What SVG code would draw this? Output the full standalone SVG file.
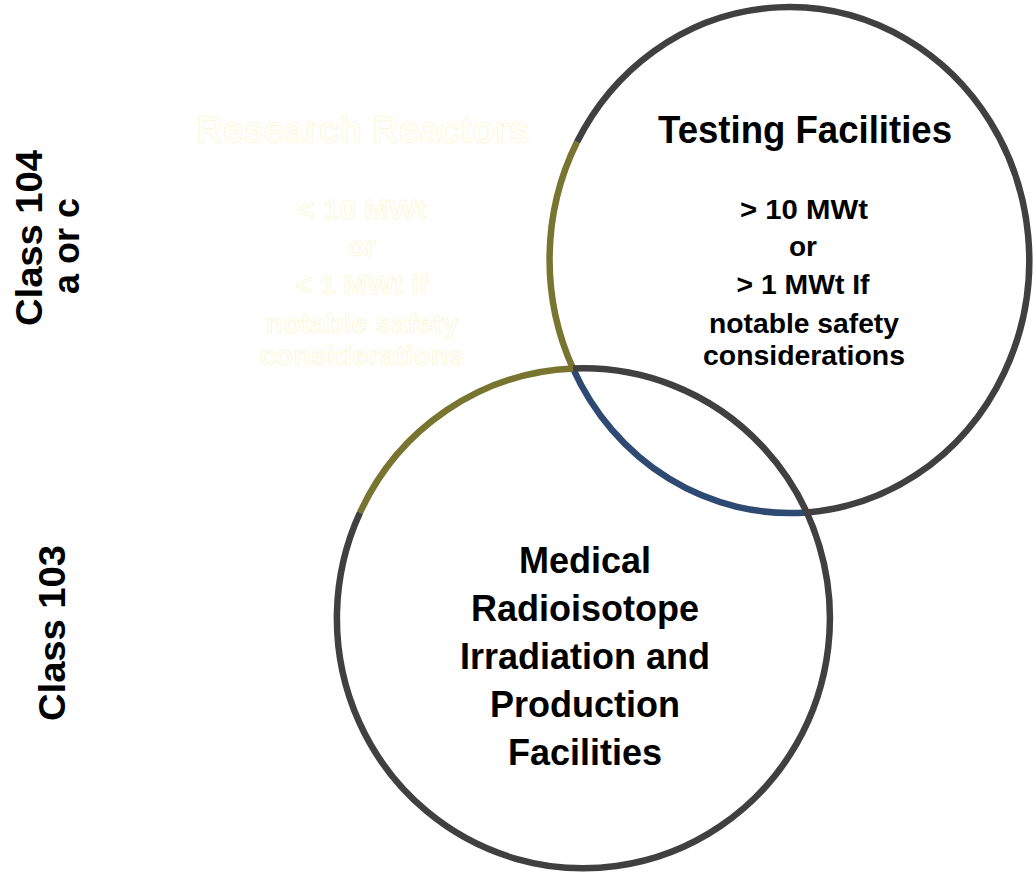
<svg xmlns="http://www.w3.org/2000/svg" width="1034" height="872" viewBox="0 0 1034 872">
  <style>
    .arc { fill: none; stroke-width: 6.5; stroke-linecap: butt; }
    .dark { stroke: #404040; }
    .olive { stroke: #787530; }
    .blue { stroke: #2e4a72; }
    .t { font-family: "Liberation Sans", Arial, sans-serif; font-weight: bold; text-anchor: middle; fill: #000; }
    .faint { fill: #fffff5; stroke: #f5f5d6; stroke-width: 0.6; }
    .title { font-size: 38px; }
    .sub { font-size: 28px; }
    .big { font-size: 36px; }
    .side { font-size: 36px; }
  </style>
  <rect width="1034" height="872" fill="#ffffff"/>

  <!-- outlines of the three sets; the research reactor set is white and only shows as olive edges -->
  <g id="connectors">
    <path class="arc olive" d="M 577 142 A 240 253 0 0 0 573 368.5"/>
    <path class="arc blue" d="M 573 368.5 A 240 253 0 0 0 807 512.4"/>
    <path class="arc dark" d="M 807 512.4 A 240 253 0 1 0 577 142"/>
    <path class="arc olive" d="M 573 368.5 A 246.5 250 0 0 0 360 512.6"/>
    <path class="arc dark" d="M 360 512.6 A 246.5 250 0 1 0 573 368.5"/>
  </g>

  <g id="research-reactors">
    <text class="t title faint" x="363" y="143" textLength="333" lengthAdjust="spacingAndGlyphs">Research Reactors</text>
    <text class="t sub faint" x="362" y="219" textLength="129" lengthAdjust="spacingAndGlyphs">&lt; 10 MWt</text>
    <text class="t sub faint" x="362" y="256">or</text>
    <text class="t sub faint" x="362" y="294" textLength="133" lengthAdjust="spacingAndGlyphs">&lt; 1 MWt if</text>
    <text class="t sub faint" x="362" y="333" textLength="193" lengthAdjust="spacingAndGlyphs">notable safety</text>
    <text class="t sub faint" x="362" y="365" textLength="205" lengthAdjust="spacingAndGlyphs">considerations</text>
  </g>

  <g id="testing-facilities">
    <text class="t title" x="805" y="143" textLength="294" lengthAdjust="spacingAndGlyphs">Testing Facilities</text>
    <text class="t sub" x="804" y="219" textLength="128" lengthAdjust="spacingAndGlyphs">&gt; 10 MWt</text>
    <text class="t sub" x="803" y="256">or</text>
    <text class="t sub" x="803" y="294" textLength="133" lengthAdjust="spacingAndGlyphs">&gt; 1 MWt If</text>
    <text class="t sub" x="804" y="333" textLength="190" lengthAdjust="spacingAndGlyphs">notable safety</text>
    <text class="t sub" x="804" y="365" textLength="202" lengthAdjust="spacingAndGlyphs">considerations</text>
  </g>

  <g id="medical-radioisotope">
    <text class="t big" x="585" y="573">Medical</text>
    <text class="t big" x="585" y="621">Radioisotope</text>
    <text class="t big" x="585" y="669">Irradiation and</text>
    <text class="t big" x="585" y="717">Production</text>
    <text class="t big" x="585" y="765">Facilities</text>
  </g>

  <g id="class-104">
    <text class="t side" transform="translate(42 238) rotate(-90)" textLength="176" lengthAdjust="spacingAndGlyphs">Class 104</text>
    <text class="t side" transform="translate(79 246) rotate(-90)">a or c</text>
  </g>

  <g id="class-103">
    <text class="t side" transform="translate(65 633) rotate(-90)" textLength="176" lengthAdjust="spacingAndGlyphs">Class 103</text>
  </g>
</svg>
